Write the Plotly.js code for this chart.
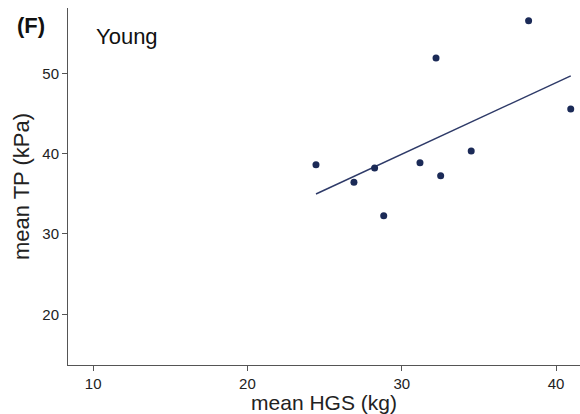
<!DOCTYPE html>
<html>
<head>
<meta charset="utf-8">
<script src="https://cdn.plot.ly/plotly-3.0.1.min.js"></script>
<style>html,body{margin:0;padding:0;background:#fff;}#chart{width:580px;height:414px;}</style>
</head>
<body>
<div id="chart"></div>
<script>
// Data
const hgs = [24.44, 26.90, 28.24, 28.83, 31.18, 32.22, 32.52, 34.50, 38.22, 40.95];
const tp  = [38.63, 36.44, 38.22, 32.28, 38.88, 51.92, 37.26, 40.34, 56.53, 45.57];
const fitX = [24.44, 40.95];
const fitY = [34.98, 49.68];
const xTicks = [10, 20, 30, 40];
const yTicks = [20, 30, 40, 50];

const font = "Liberation Sans, Arial, sans-serif";

const traces = [
  {x: fitX, y: fitY, mode: 'lines', type: 'scatter',
   line: {color: '#2e3a68', width: 1.5}, hoverinfo: 'skip'},
  {x: hgs, y: tp, mode: 'markers', type: 'scatter',
   marker: {color: '#1b2a57', size: 7}}
];

const layout = {
  width: 580, height: 414,
  margin: {l: 68, r: 0, t: 8, b: 49},
  paper_bgcolor: '#fff', plot_bgcolor: '#fff',
  showlegend: false,
  font: {family: font, color: '#222'},
  xaxis: {
    range: [8.37, 41.55], tickvals: xTicks, ticktext: xTicks.map(String),
    showgrid: false, zeroline: false, showline: true, linecolor: '#555', linewidth: 1,
    ticks: 'outside', ticklen: 5, tickcolor: '#555', tickfont: {size: 15, color: '#222'},
    title: {text: 'mean HGS (kg)', font: {size: 21, color: '#222'}, standoff: 0}
  },
  yaxis: {
    range: [13.69, 58.13], tickvals: yTicks, ticktext: yTicks.map(String),
    showgrid: false, zeroline: false, showline: true, linecolor: '#555', linewidth: 1,
    ticks: 'outside', ticklen: 5, tickcolor: '#555', tickfont: {size: 15, color: '#222'},
    title: {text: 'mean TP (kPa)', font: {size: 22, color: '#222'}, standoff: 6}
  },
  annotations: [
    {text: '<b>(F)</b>', xref: 'paper', yref: 'paper', x: -0.073, y: 0.95,
     xanchor: 'center', yanchor: 'middle', showarrow: false,
     font: {size: 22, color: '#111', family: font}},
    {text: 'Young', xref: 'paper', yref: 'paper', x: 0.05, y: 0.92,
     xanchor: 'left', yanchor: 'middle', showarrow: false,
     font: {size: 22, color: '#111', family: font}}
  ]
};

Plotly.newPlot('chart', traces, layout, {displayModeBar: false, staticPlot: true});
</script>
</body>
</html>
